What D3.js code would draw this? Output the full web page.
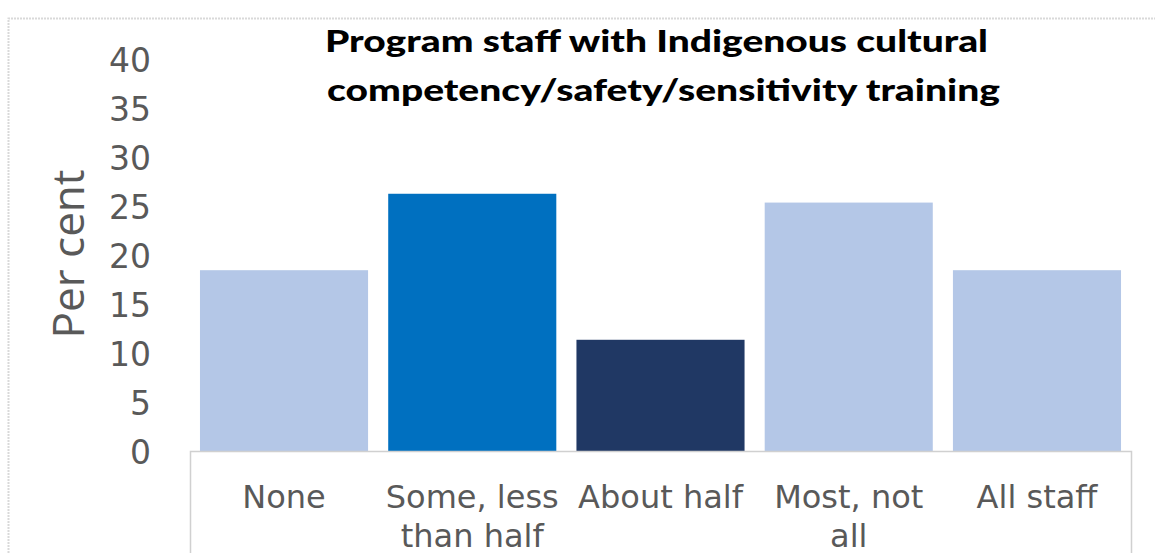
<!DOCTYPE html>
<html>
<head>
<meta charset="utf-8">
<script src="https://cdn.jsdelivr.net/npm/d3@7"></script>
<style>
  html, body { margin: 0; padding: 0; background: #ffffff; }
  svg { display: block; }
</style>
</head>
<body>
<svg id="chart" width="1155" height="553"></svg>
<script>
const categories = ["None", "Some, less than half", "About half", "Most, not all", "All staff"];
const categoryLines = [["None"], ["Some, less", "than half"], ["About half"], ["Most, not", "all"], ["All staff"]];
const values = [18.5, 26.3, 11.4, 25.4, 18.5];
const barColors = ["#b4c7e7", "#0070c0", "#203864", "#b4c7e7", "#b4c7e7"];
const yTicks = [0, 5, 10, 15, 20, 25, 30, 35, 40];
const titleLines = ["Program staff with Indigenous cultural", "competency/safety/sensitivity training"];
const yAxisTitle = "Per cent";

const svg = d3.select("#chart");
const W = 1155, H = 553;

const plot = { left: 190, right: 1131, top: 59.5, bottom: 451.5 };

const x = d3.scaleBand()
  .domain(categories)
  .range([plot.left, plot.right])
  .paddingInner(0.107)
  .paddingOuter(0.053);

const y = d3.scaleLinear()
  .domain([0, 40])
  .range([plot.bottom, plot.top]);

// outer chart border (partially visible)
svg.append("path")
  .attr("d", `M8.5,${H} L8.5,18.5 L${W},18.5`)
  .attr("fill", "none")
  .attr("stroke", "#d9d9d9")
  .attr("stroke-width", 2)
  .attr("stroke-dasharray", "2,1");

// bars
svg.append("g").selectAll("rect")
  .data(categories)
  .join("rect")
  .attr("x", d => x(d))
  .attr("width", x.bandwidth())
  .attr("y", (d, i) => y(values[i]))
  .attr("height", (d, i) => y(0) - y(values[i]))
  .attr("fill", (d, i) => barColors[i]);

// category axis box
svg.append("path")
  .attr("d", `M${plot.left + 0.5},${H} L${plot.left + 0.5},${plot.bottom} L${plot.right + 0.5},${plot.bottom} L${plot.right + 0.5},${H}`)
  .attr("fill", "none")
  .attr("stroke", "#d0d0d0")
  .attr("stroke-width", 1.5);

// y axis (labels only)
const yAxis = d3.axisLeft(y).tickValues(yTicks).tickSize(0).tickPadding(0);
const yG = svg.append("g")
  .attr("transform", `translate(151,0)`)
  .call(yAxis);
yG.select(".domain").remove();
yG.selectAll("text")
  .attr("font-family", "DejaVu Sans, Verdana, sans-serif")
  .attr("font-size", 33)
  .attr("fill", "#595959")
  .attr("dy", "0.36em");

// x axis labels
const xAxis = d3.axisBottom(x).tickSize(0).tickFormat(() => "");
const xG = svg.append("g")
  .attr("transform", `translate(0,${plot.bottom})`)
  .call(xAxis);
xG.select(".domain").remove();
xG.selectAll(".tick").each(function(d, i) {
  const t = d3.select(this).select("text")
    .attr("y", 0)
    .attr("dy", null)
    .attr("font-family", "DejaVu Sans, Verdana, sans-serif")
    .attr("font-size", 32)
    .attr("fill", "#595959")
    .attr("text-anchor", "middle");
  t.text(null);
  categoryLines[i].forEach((line, j) => {
    t.append("tspan")
      .attr("x", 0)
      .attr("y", 56.5 + j * 39)
      .text(line);
  });
});

// y axis title
svg.append("text")
  .attr("transform", "translate(84,254) rotate(-90)")
  .attr("text-anchor", "middle")
  .attr("font-family", "Open Sans, Liberation Sans, sans-serif")
  .attr("font-size", 44)
  .attr("fill", "#595959")
  .text(yAxisTitle);

// title
const titleSpecs = [{ x: 325, y: 52, w: 663 }, { x: 327, y: 101, w: 673 }];
titleLines.forEach((line, i) => {
  svg.append("text")
    .attr("x", titleSpecs[i].x)
    .attr("y", titleSpecs[i].y)
    .attr("font-family", "Lato, sans-serif")
    .attr("font-weight", 900)
    .attr("font-size", 31)
    .attr("fill", "#000000")
    .attr("textLength", titleSpecs[i].w)
    .attr("lengthAdjust", "spacingAndGlyphs")
    .text(line);
});
</script>
</body>
</html>
